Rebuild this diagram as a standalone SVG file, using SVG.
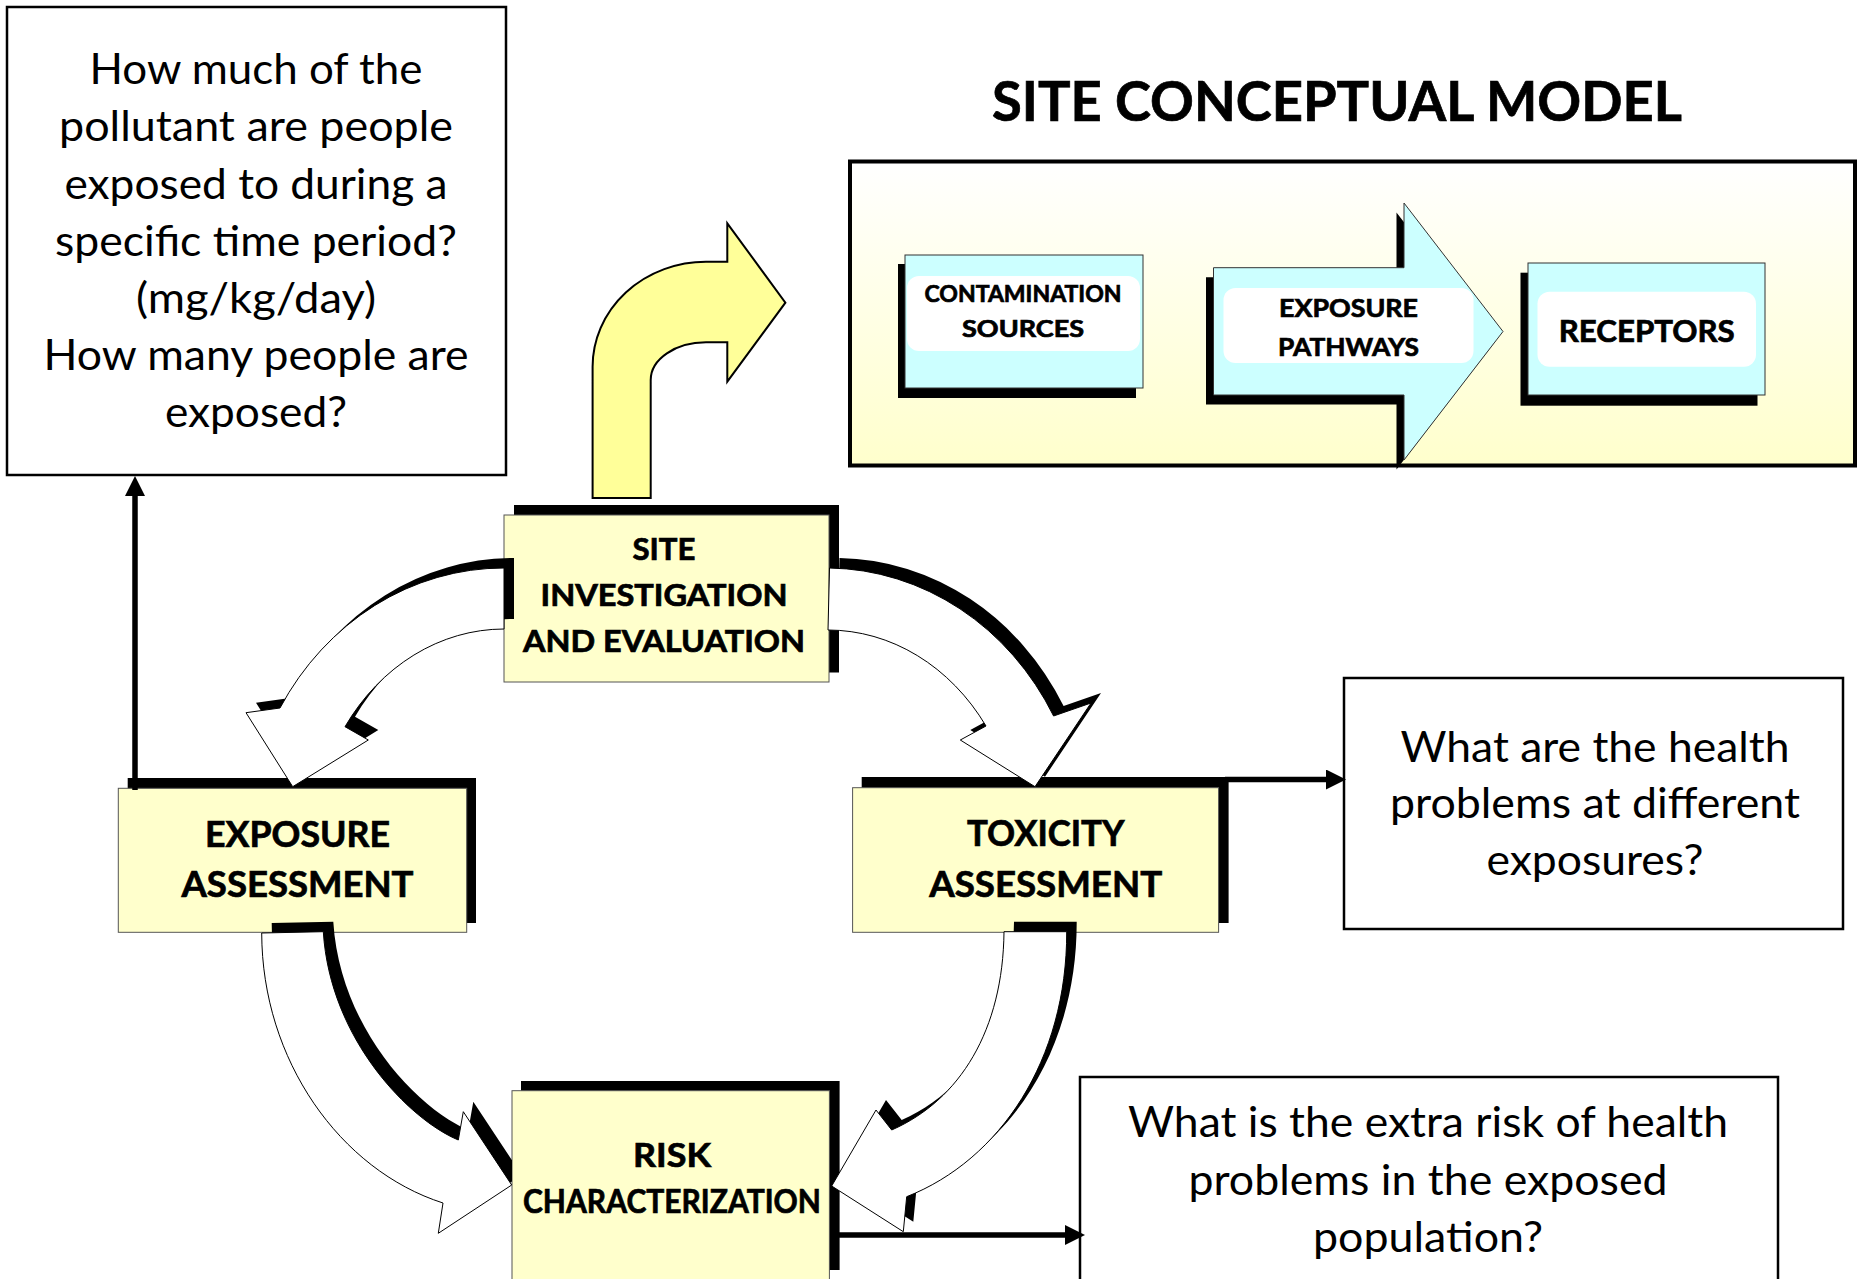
<svg xmlns="http://www.w3.org/2000/svg" width="1862" height="1279" viewBox="0 0 1862 1279">
<defs>
<linearGradient id="scmGrad" x1="0" y1="0" x2="0" y2="1">
<stop offset="0" stop-color="#FFFFFF"/>
<stop offset="1" stop-color="#FFFFCC"/>
</linearGradient>
<marker id="head" markerUnits="userSpaceOnUse" markerWidth="22" markerHeight="22" refX="0" refY="10" orient="auto">
<path d="M0,0 L20,10 L0,20 Z" fill="#000"/>
</marker>
<clipPath id="clipLeftOfRisk"><rect x="0" y="0" width="512" height="1279"/></clipPath>
<style>
.q{fill:#FFFFFF;stroke:#000;stroke-width:2.5}
.qt{font-family:Lato,"Open Sans",sans-serif;font-size:42px;fill:#000;text-anchor:middle}
.yb{fill:#FFFFCC;stroke:#555;stroke-width:1}
.sh{fill:#000}
.cy{fill:#CCFFFF;stroke:#333;stroke-width:1}
.wi{fill:#FFFFFF}
.bl{font-family:Lato,"Open Sans",sans-serif;font-weight:bold;fill:#000;stroke:#000;stroke-width:0.7;text-anchor:middle}
.wa{fill:#FFFFFF;stroke:#000;stroke-width:1;stroke-linejoin:miter}
.ln{stroke:#000;stroke-width:5.5;fill:none}
</style>
</defs>
<rect width="1862" height="1279" fill="#FFFFFF"/>

<g id="q-exposure">
<rect class="q" x="7" y="7" width="499" height="468"/>
<text class="qt" x="256" y="84" textLength="333" lengthAdjust="spacingAndGlyphs">How much of the</text>
<text class="qt" x="256" y="141" textLength="394" lengthAdjust="spacingAndGlyphs">pollutant are people</text>
<text class="qt" x="256" y="198.5" textLength="383" lengthAdjust="spacingAndGlyphs">exposed to during a</text>
<text class="qt" x="256" y="255.5" textLength="402" lengthAdjust="spacingAndGlyphs">specific time period?</text>
<text class="qt" x="256" y="313" textLength="240" lengthAdjust="spacingAndGlyphs">(mg/kg/day)</text>
<text class="qt" x="256" y="370" textLength="425" lengthAdjust="spacingAndGlyphs">How many people are</text>
<text class="qt" x="256" y="427" textLength="182" lengthAdjust="spacingAndGlyphs">exposed?</text>
</g>

<g id="q-toxicity">
<rect class="q" x="1344" y="678" width="499" height="251"/>
<text class="qt" x="1595" y="761.5" textLength="389" lengthAdjust="spacingAndGlyphs">What are the health</text>
<text class="qt" x="1595" y="818" textLength="410" lengthAdjust="spacingAndGlyphs">problems at different</text>
<text class="qt" x="1595" y="874.5" textLength="217" lengthAdjust="spacingAndGlyphs">exposures?</text>
</g>

<g id="q-risk">
<rect class="q" x="1080" y="1077" width="698" height="220"/>
<text class="qt" x="1428" y="1137" textLength="600" lengthAdjust="spacingAndGlyphs">What is the extra risk of health</text>
<text class="qt" x="1428" y="1195" textLength="479" lengthAdjust="spacingAndGlyphs">problems in the exposed</text>
<text class="qt" x="1428" y="1252" textLength="230" lengthAdjust="spacingAndGlyphs">population?</text>
</g>

<g id="title">
<text class="bl" x="1337" y="121" font-size="56" textLength="690" lengthAdjust="spacingAndGlyphs">SITE CONCEPTUAL MODEL</text>
</g>

<g id="site-conceptual-model">
<rect x="850" y="161.5" width="1005" height="304" fill="url(#scmGrad)" stroke="#000" stroke-width="4"/>
</g>

<g id="contamination-sources">
<rect class="sh" x="898" y="264" width="238" height="134"/>
<rect class="cy" x="905" y="255" width="238" height="133"/>
<rect class="wi" x="907" y="276" width="233" height="75" rx="12"/>
<text class="bl" x="1023" y="302" font-size="23" textLength="197" lengthAdjust="spacingAndGlyphs">CONTAMINATION</text>
<text class="bl" x="1023" y="337" font-size="23" textLength="122" lengthAdjust="spacingAndGlyphs">SOURCES</text>
</g>

<g id="exposure-pathways">
<path class="sh" transform="translate(-7.5,9.5)" d="M1213.5,267.7 L1404,267.7 L1404,203 L1503,331.5 L1404,460 L1404,395 L1213.5,395 Z"/>
<path class="cy" d="M1213.5,267.7 L1404,267.7 L1404,203 L1503,331.5 L1404,460 L1404,395 L1213.5,395 Z"/>
<rect class="wi" x="1223.5" y="288" width="250" height="75" rx="12"/>
<text class="bl" x="1348.5" y="316.7" font-size="25" textLength="139" lengthAdjust="spacingAndGlyphs">EXPOSURE</text>
<text class="bl" x="1348.5" y="355.7" font-size="25" textLength="141" lengthAdjust="spacingAndGlyphs">PATHWAYS</text>
</g>

<g id="receptors">
<rect class="sh" x="1520.5" y="272.7" width="237" height="133"/>
<rect class="cy" x="1528" y="263" width="237" height="132"/>
<rect class="wi" x="1537.5" y="291.7" width="218.5" height="75" rx="12"/>
<text class="bl" x="1646.7" y="341.7" font-size="30" textLength="176" lengthAdjust="spacingAndGlyphs">RECEPTORS</text>
</g>

<g id="site-investigation">
<rect class="sh" x="514" y="505" width="325" height="167.5"/>
<rect class="yb" x="504" y="515" width="325" height="167"/>
<text class="bl" x="664" y="560" font-size="30" textLength="63" lengthAdjust="spacingAndGlyphs">SITE</text>
<text class="bl" x="664" y="605.7" font-size="30" textLength="247" lengthAdjust="spacingAndGlyphs">INVESTIGATION</text>
<text class="bl" x="664" y="651.7" font-size="30" textLength="282" lengthAdjust="spacingAndGlyphs">AND EVALUATION</text>
</g>

<g id="exposure-assessment">
<rect class="sh" x="127.7" y="778" width="348.3" height="145"/>
<rect class="yb" x="118.3" y="788.3" width="348.4" height="144"/>
<text class="bl" x="297.5" y="847.3" font-size="36" textLength="185" lengthAdjust="spacingAndGlyphs">EXPOSURE</text>
<text class="bl" x="297.5" y="896.7" font-size="36" textLength="232" lengthAdjust="spacingAndGlyphs">ASSESSMENT</text>
</g>

<g id="toxicity-assessment">
<rect class="sh" x="861.7" y="777" width="366.9" height="146"/>
<rect class="yb" x="852.6" y="787.7" width="366" height="144.6"/>
<text class="bl" x="1045.7" y="846" font-size="36" textLength="157.5" lengthAdjust="spacingAndGlyphs">TOXICITY</text>
<text class="bl" x="1045.7" y="896.7" font-size="36" textLength="233" lengthAdjust="spacingAndGlyphs">ASSESSMENT</text>
</g>

<g id="risk-characterization">
<rect class="sh" x="521" y="1081" width="318.6" height="189"/>
<rect class="yb" x="512" y="1090.7" width="317.4" height="200"/>
<text class="bl" x="672" y="1166.7" font-size="33" textLength="78" lengthAdjust="spacingAndGlyphs">RISK</text>
<text class="bl" x="672" y="1213.3" font-size="33" textLength="298" lengthAdjust="spacingAndGlyphs">CHARACTERIZATION</text>
</g>

<g id="connectors">
<path id="to-scm" d="M592.6,498 L592.6,366.7 A113.4,105 0 0 1 706,261.7 L727.3,261.7 L727.3,223.3 L785.4,302.7 L727.3,381.7 L727.3,342.3 L706,342.3 A55.3,37.7 0 0 0 650.7,380 L650.7,498 Z" fill="#FFFF99" stroke="#000" stroke-width="2"/>

<g id="site-to-exposure">
<path class="sh" transform="translate(10,-10)" d="M504,568 A259,282 0 0 0 280,708 L246,712.7 L292.7,786.7 L368.3,740 L345,726.7 A192,221 0 0 1 504,629 Z"/>
<path class="wa" d="M504,568 A259,282 0 0 0 280,708 L246,712.7 L292.7,786.7 L368.3,740 L345,726.7 A192,221 0 0 1 504,629 Z"/>
</g>

<g id="site-to-toxicity">
<path class="sh" transform="translate(10,-10)" d="M829.5,568 A259,282 0 0 1 1053.6,716 L1091,703 L1035,786.7 L960.3,740 L986,726 A192,221 0 0 0 828,630 Z"/>
<path class="wa" d="M829.5,568 A259,282 0 0 1 1053.6,716 L1091,703 L1035,786.7 L960.3,740 L986,726 A192,221 0 0 0 828,630 Z"/>
</g>

<g id="exposure-to-risk">
<g clip-path="url(#clipLeftOfRisk)">
<path class="sh" transform="translate(10,-10)" d="M261.7,933 C262,1060 340,1170 443,1203 L438.3,1233.3 L511.7,1185 L463.3,1111.7 L458.3,1140 C410,1120 330,1040 323.3,931.7 Z"/>
</g>
<path class="wa" d="M261.7,933 C262,1060 340,1170 443,1203 L438.3,1233.3 L511.7,1185 L463.3,1111.7 L458.3,1140 C410,1120 330,1040 323.3,931.7 Z"/>
</g>

<g id="toxicity-to-risk">
<path class="sh" transform="translate(10,-10)" d="M1004,931.7 L1066.7,931.7 C1067,1060 1000,1160 906.7,1196.7 L903.3,1231.7 L831.7,1186 L876,1110 L891.7,1130 C960,1100 1003,1030 1004,931.7 Z"/>
<path class="wa" d="M1004,931.7 L1066.7,931.7 C1067,1060 1000,1160 906.7,1196.7 L903.3,1231.7 L831.7,1186 L876,1110 L891.7,1130 C960,1100 1003,1030 1004,931.7 Z"/>
</g>

<line id="exposure-to-question" class="ln" x1="135" y1="790" x2="135" y2="496" marker-end="url(#head)"/>
<line id="toxicity-to-question" class="ln" x1="1225" y1="779.5" x2="1326" y2="779.5" marker-end="url(#head)"/>
<line id="risk-to-question" class="ln" x1="838" y1="1235" x2="1065" y2="1235" marker-end="url(#head)"/>
</g>
</svg>
